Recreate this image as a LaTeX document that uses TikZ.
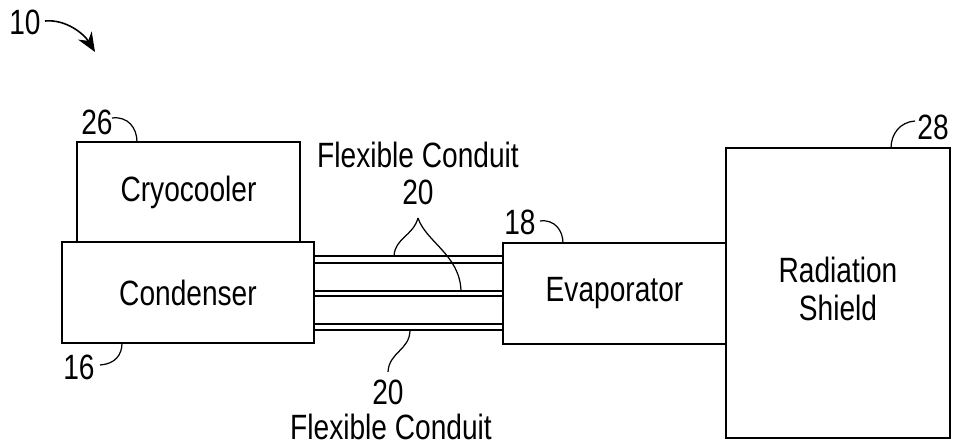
\documentclass[tikz,border=0pt]{standalone}
\usepackage{fontspec}
\setmainfont{Liberation Sans}[FakeStretch=0.8]
\usetikzlibrary{positioning,arrows.meta}

\tikzset{
  unitbox/.style={draw, line width=0.8pt, inner sep=0pt, align=center,
    font=\fontsize{20}{21.5}\selectfont},
  refnum/.style={inner sep=0pt, font=\fontsize{20}{21}\selectfont},
  leader/.style={line width=0.7pt},
  pipe/.style={line width=0.8pt}
}

\begin{document}
\begin{tikzpicture}[x=0.02cm, y=-0.02cm]
  \useasboundingbox (0,0) rectangle (954,446);

  % units
  \node[unitbox, minimum width=4.46cm, minimum height=2cm] (cryo) at (188.5,192) {Cryocooler};
  \node[unitbox, minimum width=5.04cm, minimum height=2.02cm] (cond) at (188,292.5) {Condenser};
  \node[unitbox, minimum width=4.46cm, minimum height=2.02cm] (evap) at (614.5,293.5) {Evaporator};
  \node[unitbox, minimum width=4.48cm, minimum height=5.8cm] (shield) at (838,293) {};
  \node[unitbox, draw=none] (shieldtext) at (838,289) {Radiation\\Shield};

  % flexible conduits
  \foreach \y in {256,263,291,296,324,330}{
    \draw[pipe] (cond.east |- 0,\y) -- (evap.west |- 0,\y);
  }

  % reference numerals
  \node[refnum] (n10) at (25,22) {10};
  \draw[leader, line width=0.9pt, -{Stealth[length=11pt, width=9pt]}] (45,21) .. controls (66,19) and (84,34) .. (95,52);

  \node[refnum] (n26) at (97,122) {26};
  \draw[leader] (112,118) .. controls (128,116) and (137,128) .. (137,142);

  \node[refnum] (n18) at (520,222) {18};
  \draw[leader] (540,221) .. controls (555,219) and (563,231) .. (563,243);

  \node[refnum] (n16) at (79,367) {16};
  \draw[leader] (100,365) .. controls (115,364) and (122,355) .. (122,343);

  \node[refnum] (n28) at (933,127) {28};
  \draw[leader] (915,121) .. controls (900,122) and (891,134) .. (891,148);

  % conduit labels
  \node[refnum] (flexA) at (418,155) {Flexible Conduit};
  \node[refnum] (n20a) at (418,192) {20};
  \draw[leader] (418,218) .. controls (413,236) and (395,238) .. (394,256);
  \draw[leader] (418,218) .. controls (426,242) and (460,255) .. (461,291);

  \node[refnum] (n20b) at (388,392) {20};
  \node[refnum] (flexB) at (391,427) {Flexible Conduit};
  \draw[leader] (388,372) .. controls (389,352) and (410,350) .. (410,330);
\end{tikzpicture}
\end{document}
